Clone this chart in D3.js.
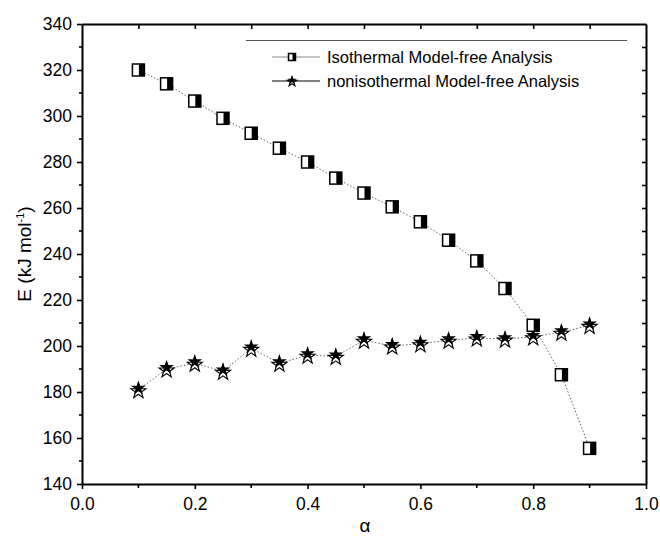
<!DOCTYPE html>
<html>
<head>
<meta charset="utf-8">
<script src="https://cdn.jsdelivr.net/npm/d3@7"></script>
<style>
  body { margin: 0; background: #fff; }
  text { font-family: "Liberation Sans", Arial, sans-serif; fill: #000; }
</style>
</head>
<body>
<div id="chart"></div>
<script>
// data
var alpha = [0.1, 0.15, 0.2, 0.25, 0.3, 0.35, 0.4, 0.45, 0.5, 0.55, 0.6, 0.65, 0.7, 0.75, 0.8, 0.85, 0.9];
var isoE = [320, 314, 306.5, 299, 292.5, 286, 280, 273, 266.5, 260.5, 254, 246, 237, 225, 209, 187.5, 155.5];
var nonisoE = [181, 190, 192.5, 189, 199, 192.5, 196, 195.5, 202.5, 200, 201, 202.5, 203.5, 203, 204, 206, 209];
var xTicks = [0, 0.2, 0.4, 0.6, 0.8, 1.0];
var yTicks = [140, 160, 180, 200, 220, 240, 260, 280, 300, 320, 340];
var seriesNames = ["Isothermal Model-free Analysis", "nonisothermal Model-free Analysis"];

var w = 660, h = 541;
var padL = 82, padR = 646, padT = 24, padB = 484;

var svg = d3.select("#chart").append("svg")
  .attr("width", w).attr("height", h);

var x = d3.scaleLinear().domain([0, 1]).range([padL, padR]);
var y = d3.scaleLinear().domain([140, 340]).range([padB, padT]);

var minorX = d3.range(0.1, 1, 0.2);
var minorY = d3.range(150, 340, 20);

// axes
var axB = d3.axisBottom(x).tickValues(xTicks).tickFormat(d3.format(".1f")).tickSize(5).tickPadding(9);
var axL = d3.axisLeft(y).tickValues(yTicks).tickSize(5).tickPadding(5);
var axT = d3.axisTop(x).tickValues(d3.range(0.1, 1, 0.1)).tickFormat("").tickSize(-5);
var axR = d3.axisRight(y).tickValues(d3.range(150, 340, 10)).tickFormat("").tickSize(-4);

function styleAxis(g) {
  g.select(".domain").attr("stroke", "#000").attr("stroke-width", 2);
  g.selectAll(".tick line").attr("stroke", "#000").attr("stroke-width", 1.6);
  g.selectAll(".tick text").attr("font-size", "17.5px").attr("fill", "#000")
    .attr("font-family", "'Liberation Sans', Arial, sans-serif");
}

svg.append("g").attr("transform", "translate(0," + padB + ")").call(axB.tickSizeOuter(0)).call(styleAxis);
svg.append("g").attr("transform", "translate(" + padL + ",0)").call(axL.tickSizeOuter(0)).call(styleAxis);
svg.append("g").attr("transform", "translate(0," + padT + ")").call(axT.tickSizeOuter(0)).call(styleAxis);
svg.append("g").attr("transform", "translate(" + padR + ",0)").call(axR.tickSizeOuter(0)).call(styleAxis);

// minor ticks outside on bottom and left
svg.selectAll(".mx").data(minorX).enter().append("line")
  .attr("x1", function(d) { return x(d); }).attr("x2", function(d) { return x(d); })
  .attr("y1", padB).attr("y2", padB + 4)
  .attr("stroke", "#000").attr("stroke-width", 1.6);
svg.selectAll(".my").data(minorY).enter().append("line")
  .attr("x1", padL).attr("x2", padL - 3)
  .attr("y1", function(d) { return y(d); }).attr("y2", function(d) { return y(d); })
  .attr("stroke", "#000").attr("stroke-width", 1.6);

// axis titles
svg.append("text")
  .attr("x", 365).attr("y", 532)
  .attr("text-anchor", "middle").attr("font-size", "19px")
  .text("α");

var yl = svg.append("text")
  .attr("transform", "translate(31," + ((padT + padB) / 2) + ") rotate(-90)")
  .attr("text-anchor", "middle").attr("font-size", "19px");
yl.append("tspan").text("E (kJ mol");
yl.append("tspan").attr("font-size", "11px").attr("dy", -7).text("-1");
yl.append("tspan").attr("dy", 7).text(")");

// connecting lines
var line = d3.line()
  .x(function(d) { return x(d[0]); })
  .y(function(d) { return y(d[1]); });

var isoPts = alpha.map(function(a, i) { return [a, isoE[i]]; });
var nonPts = alpha.map(function(a, i) { return [a, nonisoE[i]]; });

svg.append("path").datum(isoPts).attr("d", line)
  .attr("fill", "none").attr("stroke", "#555").attr("stroke-width", 0.9)
  .attr("stroke-dasharray", "1.5,2");
svg.append("path").datum(nonPts).attr("d", line)
  .attr("fill", "none").attr("stroke", "#555").attr("stroke-width", 0.9)
  .attr("stroke-dasharray", "1.5,2");

// markers
function halfSquare(g, cx, cy, s) {
  g.append("rect").attr("x", cx - s / 2).attr("y", cy - s / 2)
    .attr("width", s).attr("height", s)
    .attr("fill", "#fff").attr("stroke", "#000").attr("stroke-width", 1.5);
  g.append("rect").attr("x", cx + 0.5).attr("y", cy - s / 2)
    .attr("width", s / 2 - 0.5).attr("height", s)
    .attr("fill", "#000");
}

var star = d3.symbol().type(d3.symbolStar);
function doubleStar(g, cx, cy, sz, off) {
  g.append("path").attr("d", star.size(sz)())
    .attr("transform", "translate(" + cx + "," + (cy + off) + ")")
    .attr("fill", "#fff").attr("stroke", "#000").attr("stroke-width", 1.1);
  g.append("path").attr("d", star.size(sz * 0.95)())
    .attr("transform", "translate(" + cx + "," + (cy - off) + ")")
    .attr("fill", "#000");
}

var mk = svg.append("g");
nonPts.forEach(function(d) { doubleStar(mk, x(d[0]), y(d[1]), 70, 1.5); });
isoPts.forEach(function(d) { halfSquare(mk, x(d[0]), y(d[1]), 12); });

// legend
var lg = svg.append("g");
lg.append("line").attr("x1", 246).attr("x2", 627).attr("y1", 40.5).attr("y2", 40.5)
  .attr("stroke", "#555").attr("stroke-width", 1);
lg.append("line").attr("x1", 272).attr("x2", 320).attr("y1", 57).attr("y2", 57)
  .attr("stroke", "#888").attr("stroke-width", 1.2);
halfSquare(lg, 292, 57, 7);
lg.append("line").attr("x1", 272).attr("x2", 320).attr("y1", 81).attr("y2", 81)
  .attr("stroke", "#000").attr("stroke-width", 1.2);
doubleStar(lg, 292, 81, 28, 0.8);
lg.append("text").attr("x", 327).attr("y", 63).attr("font-size", "16.5px").text(seriesNames[0]);
lg.append("text").attr("x", 327).attr("y", 87).attr("font-size", "16.5px").text(seriesNames[1]);
</script>
</body>
</html>
